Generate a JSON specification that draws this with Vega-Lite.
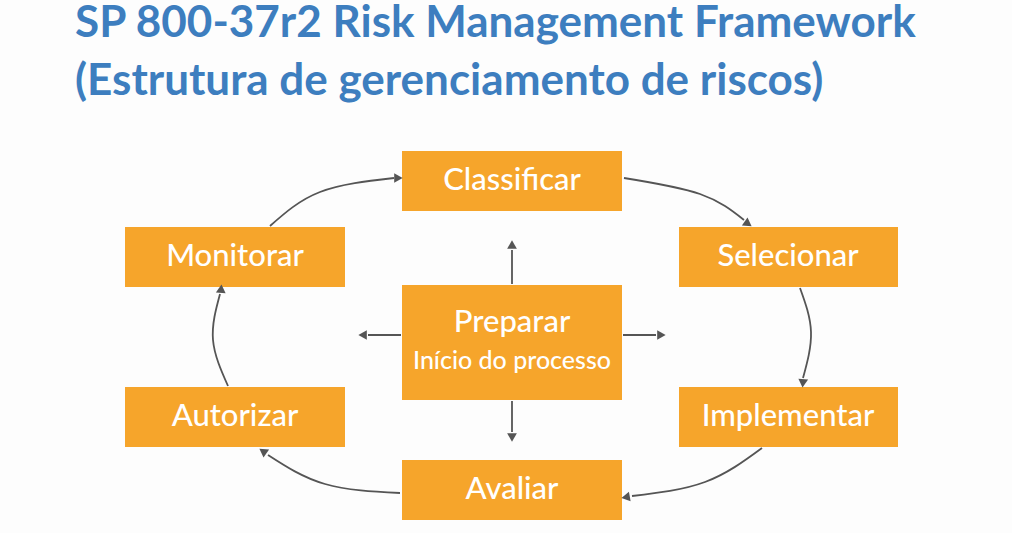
{
"$schema":"https://vega.github.io/schema/vega-lite/v6.json",
"width":1012,"height":533,"padding":0,
"autosize":{"type":"fit","contains":"padding"},
"background":"#fdfdfd",
"config":{"view":{"stroke":null},"axis":{"disable":true}},
"datasets":{
"boxes":[
{"name":"Classificar","x":402,"x2":622,"y":151,"y2":211},
{"name":"Selecionar","x":679,"x2":898,"y":227,"y2":287},
{"name":"Monitorar","x":125,"x2":345,"y":227,"y2":287},
{"name":"Preparar","x":402,"x2":622,"y":285,"y2":400},
{"name":"Autorizar","x":125,"x2":345,"y":387,"y2":447},
{"name":"Implementar","x":679,"x2":898,"y":387,"y2":447},
{"name":"Avaliar","x":402,"x2":622,"y":460,"y2":520}],
"labels":[
{"t":"Classificar","x":512,"y":181,"s":31},
{"t":"Selecionar","x":788,"y":257,"s":31},
{"t":"Monitorar","x":235,"y":257,"s":31},
{"t":"Preparar","x":512,"y":323,"s":31},
{"t":"Início do processo","x":512,"y":361,"s":25},
{"t":"Autorizar","x":235,"y":417,"s":31},
{"t":"Implementar","x":788,"y":417,"s":31},
{"t":"Avaliar","x":512,"y":490,"s":31}],
"curves":[
{"id":1,"o":1,"x":270,"y":226},{"id":1,"o":2,"x":320,"y":192},{"id":1,"o":3,"x":394,"y":178},
{"id":2,"o":1,"x":624,"y":178},{"id":2,"o":2,"x":700,"y":194},{"id":2,"o":3,"x":744,"y":220},
{"id":3,"o":1,"x":800,"y":288},{"id":3,"o":2,"x":811,"y":332},{"id":3,"o":3,"x":803,"y":378},
{"id":4,"o":1,"x":762,"y":448},{"id":4,"o":2,"x":705,"y":482},{"id":4,"o":3,"x":632,"y":496},
{"id":5,"o":1,"x":400,"y":493},{"id":5,"o":2,"x":325,"y":484},{"id":5,"o":3,"x":268,"y":455},
{"id":6,"o":1,"x":228,"y":386},{"id":6,"o":2,"x":213,"y":340},{"id":6,"o":3,"x":220,"y":294},
{"id":7,"o":1,"x":512,"y":284},{"id":7,"o":2,"x":512,"y":250},
{"id":8,"o":1,"x":512,"y":401},{"id":8,"o":2,"x":512,"y":432},
{"id":9,"o":1,"x":401,"y":335},{"id":9,"o":2,"x":368,"y":335},
{"id":10,"o":1,"x":623,"y":335},{"id":10,"o":2,"x":656,"y":335}],
"heads":[
{"x":397,"y":178,"a":90},{"x":747,"y":223,"a":125},{"x":803,"y":382,"a":185},
{"x":627,"y":497,"a":260},{"x":264,"y":452,"a":305},{"x":221,"y":290,"a":5},
{"x":512,"y":246,"a":0},{"x":512,"y":436,"a":180},{"x":364,"y":335,"a":270},{"x":660,"y":335,"a":90}],
"title":[
{"t":"SP 800-37r2 Risk Management Framework","x":75,"y":24},
{"t":"(Estrutura de gerenciamento de riscos)","x":75,"y":82}]},
"layer":[
{"data":{"name":"boxes"},"mark":{"type":"rect","color":"#F6A52B"},
"encoding":{"x":{"field":"x","type":"quantitative","scale":{"domain":[0,1012],"nice":false,"zero":false}},"x2":{"field":"x2"},
"y":{"field":"y","type":"quantitative","scale":{"domain":[533,0],"nice":false,"zero":false}},"y2":{"field":"y2"}}},
{"data":{"name":"curves"},"mark":{"type":"line","interpolate":"natural","color":"#555","strokeWidth":1.8},
"encoding":{"x":{"field":"x","type":"quantitative"},"y":{"field":"y","type":"quantitative"},"detail":{"field":"id"},"order":{"field":"o"}}},
{"data":{"name":"heads"},"mark":{"type":"point","shape":"triangle","filled":true,"color":"#555","size":95,"opacity":1},
"encoding":{"x":{"field":"x","type":"quantitative"},"y":{"field":"y","type":"quantitative"},"angle":{"field":"a","type":"quantitative","scale":null}}},
{"data":{"name":"labels"},"mark":{"type":"text","color":"white","font":"Lato","fontWeight":500,"align":"center","baseline":"middle"},
"encoding":{"x":{"field":"x","type":"quantitative"},"y":{"field":"y","type":"quantitative"},"text":{"field":"t"},"size":{"field":"s","type":"quantitative","scale":null}}},
{"data":{"name":"title"},"mark":{"type":"text","color":"#3D7EBF","font":"Lato","fontWeight":"bold","fontSize":44,"align":"left","baseline":"middle"},
"encoding":{"x":{"field":"x","type":"quantitative"},"y":{"field":"y","type":"quantitative"},"text":{"field":"t"}}}
]}
